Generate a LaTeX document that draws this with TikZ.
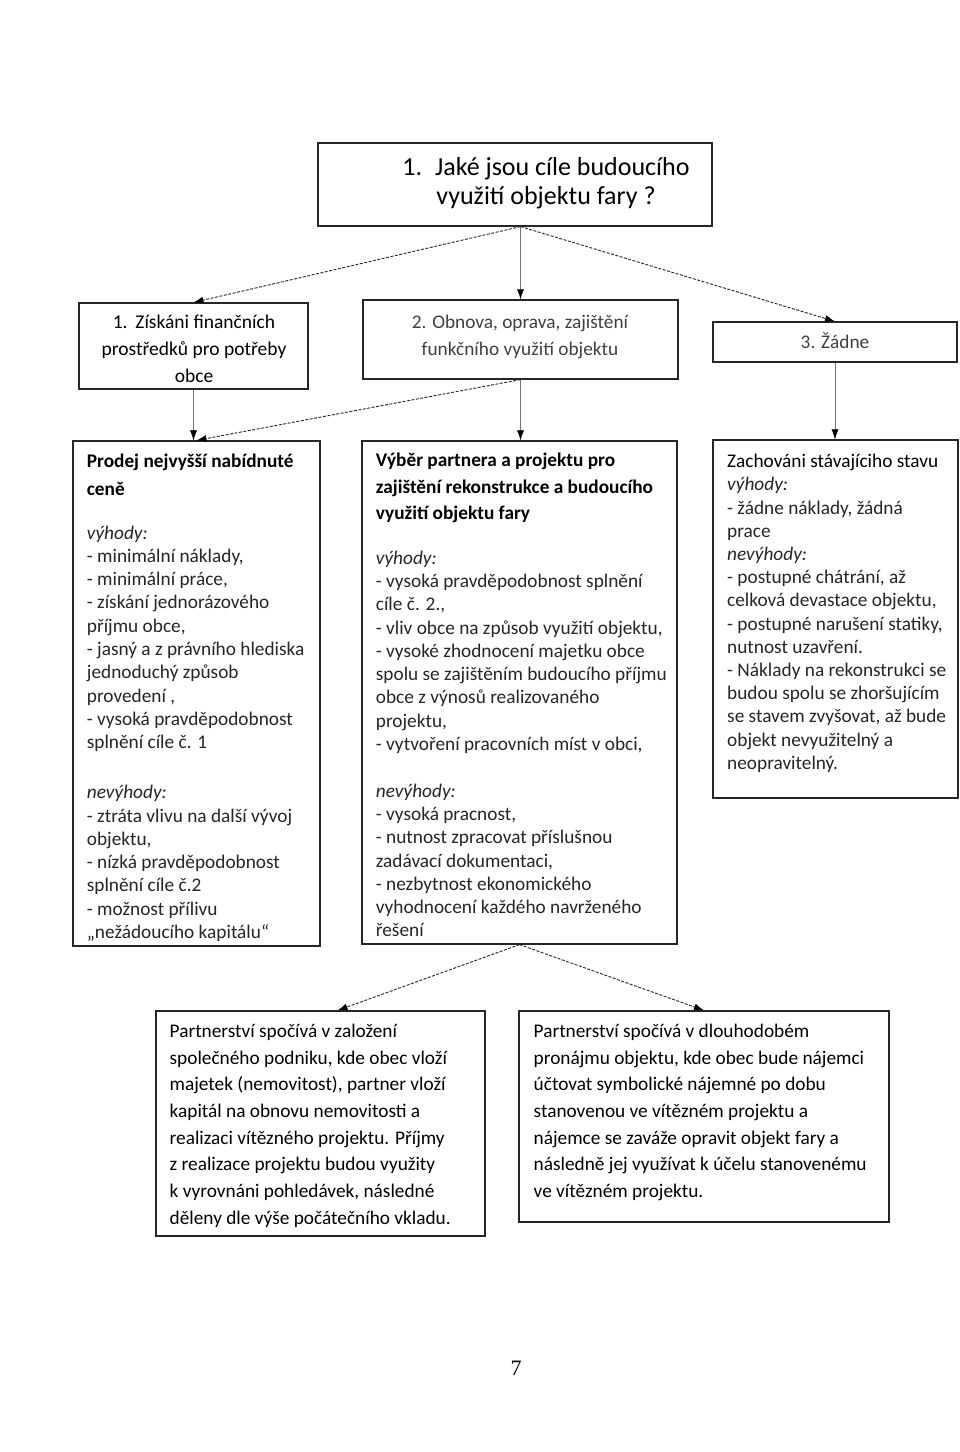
\documentclass[tikz,border=0pt]{standalone}
\usepackage{fontspec}
\setmainfont{Carlito}
\newfontfamily\pagenumfont{Liberation Serif}
\usetikzlibrary{arrows.meta}
\newcommand\myfr{\rule{0pt}{17pt}}
\newcommand\mytopfr{\rule{0pt}{21pt}}
\tikzset{
  box/.style={draw=black!85, line width=1.2pt, inner sep=0pt},
  txt/.style={inner sep=0pt, align=left, anchor=north west, text=black!85},
  ctxt/.style={inner sep=0pt, align=center, anchor=north, text=black!85},
  tipstyle/.style={-{Latex[length=10pt,width=7pt,color=black]}},
  vline/.style={tipstyle, draw=black!55, line width=0.6pt},
  dline/.style={tipstyle, draw=black!85, line width=0.9pt, dash pattern=on 3pt off 1.5pt},
}
\begin{document}
\begin{tikzpicture}[x=1pt,y=-1pt]
\useasboundingbox (0,0) rectangle (960,1452);
\fill[white] (0,0) rectangle (960,1452);

% boxes
\node[box, minimum width=394pt, minimum height=83pt] (t) at (515,184.5) {};
\node[box, minimum width=229pt, minimum height=86pt] (b1) at (193.5,346) {};
\node[box, minimum width=315pt, minimum height=79pt] (b2) at (520.5,339.5) {};
\node[box, minimum width=244pt, minimum height=40pt] (b3) at (835,342) {};
\node[box, minimum width=247pt, minimum height=505pt] (b4) at (196.5,693.5) {};
\node[box, minimum width=315pt, minimum height=503pt] (b5) at (519.5,692.5) {};
\node[box, minimum width=245pt, minimum height=358pt] (b6) at (835.5,619) {};
\node[box, minimum width=329pt, minimum height=225pt] (b7) at (320.5,1123.5) {};
\node[box, minimum width=370pt, minimum height=211pt] (b8) at (704,1116.5) {};

% texts
\node[ctxt, text=black, font=\fontsize{26}{29.5}\selectfont] (tt) at (546,154)
  {\mytopfr 1.\hspace{0.5em}Jaké jsou cíle budoucího\\ využití objektu fary ?};
\node[ctxt, text=black, font=\fontsize{19.5}{27}\selectfont] (t1) at (194,311.5)
  {\myfr 1.\hspace{0.4em}Získáni finančních\\ prostředků pro potřeby\\ obce};
\node[ctxt, text=black!75, font=\fontsize{19.3}{27}\selectfont] (t2) at (520,311.5)
  {\myfr 2. Obnova, oprava, zajištění\\ funkčního využití objektu};
\node[ctxt, text=black!75, font=\fontsize{19.3}{27}\selectfont] (t3) at (835,331)
  {\myfr 3. Žádne};

\node[txt, font=\fontsize{19.3}{23.3}\selectfont] (t4) at (86.7,450.2)
  {\myfr{\bfseries\color{black} Prodej nejvyšší nabídnuté}\\[5pt]
   {\bfseries\color{black} ceně}\\[20pt]
   \textit{výhody:}\\
   - minimální náklady,\\
   - minimální práce,\\
   - získání jednorázového\\
   příjmu obce,\\
   - jasný a z právního hlediska\\
   jednoduchý způsob\\
   provedení ,\\
   - vysoká pravděpodobnost\\
   splnění cíle č. 1\\[26.7pt]
   \textit{nevýhody:}\\
   - ztráta vlivu na další vývoj\\
   objektu,\\
   - nízká pravděpodobnost\\
   splnění cíle č.2\\
   - možnost přílivu\\
   „nežádoucího kapitálu“};

\node[txt, font=\fontsize{19.3}{23.3}\selectfont] (t5) at (375.7,449.2)
  {\myfr{\bfseries\color{black} Výběr partnera a projektu pro}\\[3.4pt]
   {\bfseries\color{black} zajištění rekonstrukce a budoucího}\\[3.4pt]
   {\bfseries\color{black} využití objektu fary}\\[21pt]
   \textit{výhody:}\\
   - vysoká pravděpodobnost splnění\\
   cíle č. 2.,\\
   - vliv obce na způsob využití objektu,\\
   - vysoké zhodnocení majetku obce\\
   spolu se zajištěním budoucího příjmu\\
   obce z výnosů realizovaného\\
   projektu,\\
   - vytvoření pracovních míst v obci,\\[23.3pt]
   \textit{nevýhody:}\\
   - vysoká pracnost,\\
   - nutnost zpracovat příslušnou\\
   zadávací dokumentaci,\\
   - nezbytnost ekonomického\\
   vyhodnocení každého navrženého\\
   řešení};

\node[txt, font=\fontsize{19.3}{23.2}\selectfont] (t6) at (727,450.5)
  {\myfr{\color{black}Zachováni stávajíciho stavu}\\
   \textit{výhody:}\\
   - žádne náklady, žádná\\
   prace\\
   \textit{nevýhody:}\\
   - postupné chátrání, až\\
   celková devastace objektu,\\
   - postupné narušení statiky,\\
   nutnost uzavření.\\
   - Náklady na rekonstrukci se\\
   budou spolu se zhoršujícím\\
   se stavem zvyšovat, až bude\\
   objekt nevyužitelný a\\
   neopravitelný.};

\node[txt, text=black, font=\fontsize{19.3}{26.67}\selectfont] (t7) at (169.5,1020.2)
  {\myfr Partnerství spočívá v založení\\
   společného podniku, kde obec vloží\\
   majetek (nemovitost), partner vloží\\
   kapitál na obnovu nemovitosti a\\
   realizaci vítězného projektu. Příjmy\\
   z realizace projektu budou využity\\
   k vyrovnáni pohledávek, následné\\
   děleny dle výše počátečního vkladu.};

\node[txt, text=black, font=\fontsize{19.3}{26.67}\selectfont] (t8) at (533.5,1020.2)
  {\myfr Partnerství spočívá v dlouhodobém\\
   pronájmu objektu, kde obec bude nájemci\\
   účtovat symbolické nájemné po dobu\\
   stanovenou ve vítězném projektu a\\
   nájemce se zaváže opravit objekt fary a\\
   následně jej využívat k účelu stanovenému\\
   ve vítězném projektu.};

\node[inner sep=0pt, font=\pagenumfont\fontsize{22}{24}\selectfont] (pg) at (516,1368) {7};

% connectors
\coordinate (ts) at (b2.north |- t.south);
\draw[vline] (ts) -- (b2.north);
\draw[dline] (ts) -- (b1.north);
\draw[dline] (ts) -- (b3.north);
\draw[vline] (b1.south) -- (b1.south |- b4.north);
\draw[dline] (b2.south) -- (b4.north);
\draw[vline] (b2.south) -- (b2.south |- b5.north);
\draw[vline] (b3.south) -- (b3.south |- b6.north);
\coordinate (b7t) at ([xshift=17pt]b7.north);
\draw[dline] (b5.south) -- (b7t);
\draw[dline] (b5.south) -- (b8.north);
\end{tikzpicture}
\end{document}
